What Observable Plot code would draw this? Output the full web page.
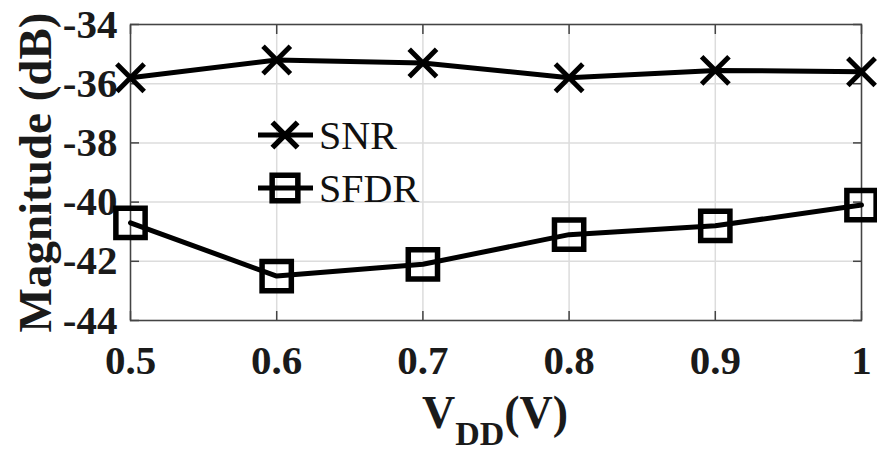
<!DOCTYPE html>
<html>
<head>
<meta charset="utf-8">
<script src="https://cdn.jsdelivr.net/npm/d3@7"></script>
<script src="https://cdn.jsdelivr.net/npm/@observablehq/plot@0.6"></script>
<style>
  html, body { margin: 0; padding: 0; background: #fff; }
  #chart svg { display: block; }
  #chart svg text { font-family: "Liberation Serif", "Times New Roman", Times, serif !important; }
</style>
</head>
<body>
<div id="chart"></div>
<script>
const vdd = [0.5, 0.6, 0.7, 0.8, 0.9, 1.0];
const snr = [-35.8, -35.2, -35.3, -35.8, -35.55, -35.6];
const sfdr = [-40.7, -42.5, -42.1, -41.1, -40.8, -40.1];
const xTicks = [0.5, 0.6, 0.7, 0.8, 0.9, 1];
const yTicks = [-44, -42, -40, -38, -36, -34];
const seriesNames = ["SNR", "SFDR"];
const yTitle = "Magnitude (dB)";

const snrData = vdd.map((v, i) => ({x: v, y: snr[i]}));
const sfdrData = vdd.map((v, i) => ({x: v, y: sfdr[i]}));

const W = 877, H = 454;

const plot = Plot.plot({
  width: W,
  height: H,
  marginLeft: 130,
  marginRight: 16,
  marginTop: 24,
  marginBottom: 134,
  style: {background: "#fff", overflow: "visible"},
  x: {domain: [0.5, 1], ticks: xTicks},
  y: {domain: [-44, -34], ticks: yTicks},
  marks: [
    Plot.gridX(xTicks, {stroke: "#dcdcdc", strokeOpacity: 1, strokeWidth: 1.5}),
    Plot.gridY(yTicks, {stroke: "#dcdcdc", strokeOpacity: 1, strokeWidth: 1.5}),
    // inward ticks on all four sides
    Plot.axisX(xTicks, {anchor: "bottom", tickSize: -9, tickFormat: () => "", stroke: "#444", strokeWidth: 1.5, label: null}),
    Plot.axisX(xTicks, {anchor: "top", tickSize: -9, tickFormat: () => "", stroke: "#444", strokeWidth: 1.5, label: null}),
    Plot.axisY(yTicks, {anchor: "left", tickSize: -9, tickFormat: () => "", stroke: "#444", strokeWidth: 1.5, label: null}),
    Plot.axisY(yTicks, {anchor: "right", tickSize: -9, tickFormat: () => "", stroke: "#444", strokeWidth: 1.5, label: null}),
    // tick labels
    Plot.axisX(xTicks, {anchor: "bottom", tickSize: 0, tickPadding: 24, tickFormat: d => d === 1 ? "1" : d3.format(".1f")(d),
      fontSize: 41, fontWeight: "bold", fill: "#1a1a1a", label: null}),
    Plot.axisY(yTicks, {anchor: "left", tickSize: 0, tickPadding: 13, tickFormat: d => String(d).replace("\u2212", "-"),
      fontSize: 41, fontWeight: "bold", fill: "#1a1a1a", label: null}),
    Plot.frame({stroke: "#444", strokeWidth: 1.5}),
    // series
    Plot.line(snrData, {x: "x", y: "y", stroke: "#000", strokeWidth: 5}),
    Plot.dot(snrData, {x: "x", y: "y", symbol: "times", r: 12.5, stroke: "#000", strokeWidth: 5}),
    Plot.line(sfdrData, {x: "x", y: "y", stroke: "#000", strokeWidth: 5}),
    Plot.dot(sfdrData, {x: "x", y: "y", symbol: "square", r: 16.5, stroke: "#000", fill: "none", strokeWidth: 5.5}),
    // y title
    Plot.text([yTitle], {frameAnchor: "left", dx: -95, rotate: -90, fontSize: 47, fontWeight: "bold", fill: "#1a1a1a", textAnchor: "middle", lineAnchor: "middle"})
  ]
});

document.getElementById("chart").appendChild(plot);

// Legend & x-axis title (overlay on the same SVG)
const svg = d3.select(plot);
const legend = svg.append("g").attr("text-anchor", "start");
const legendRows = [
  {name: seriesNames[0], y: 135, sym: d3.symbolTimes, size: Math.PI * 11.5 * 11.5},
  {name: seriesNames[1], y: 188, sym: d3.symbolSquare, size: Math.PI * 14.5 * 14.5}
];
legendRows.forEach(r => {
  legend.append("line").attr("x1", 258).attr("x2", 313).attr("y1", r.y).attr("y2", r.y)
    .attr("stroke", "#000").attr("stroke-width", 5);
  legend.append("path").attr("d", d3.symbol(r.sym, r.size)()).attr("transform", `translate(285,${r.y})`)
    .attr("stroke", "#000").attr("stroke-width", 5.5).attr("fill", "none");
  legend.append("text").attr("x", 319).attr("y", r.y).attr("dy", "0.35em").attr("text-anchor", "start")
    .attr("font-size", 40).attr("fill", "#111").text(r.name);
});

const xt = svg.append("text").attr("x", 495).attr("y", 428).attr("text-anchor", "middle")
  .attr("font-weight", "bold").attr("fill", "#1a1a1a");
xt.append("tspan").attr("font-size", 46).text("V");
xt.append("tspan").attr("font-size", 34).attr("dy", 17).text("DD");
xt.append("tspan").attr("font-size", 46).attr("dy", -17).text("(V)");
</script>
</body>
</html>
